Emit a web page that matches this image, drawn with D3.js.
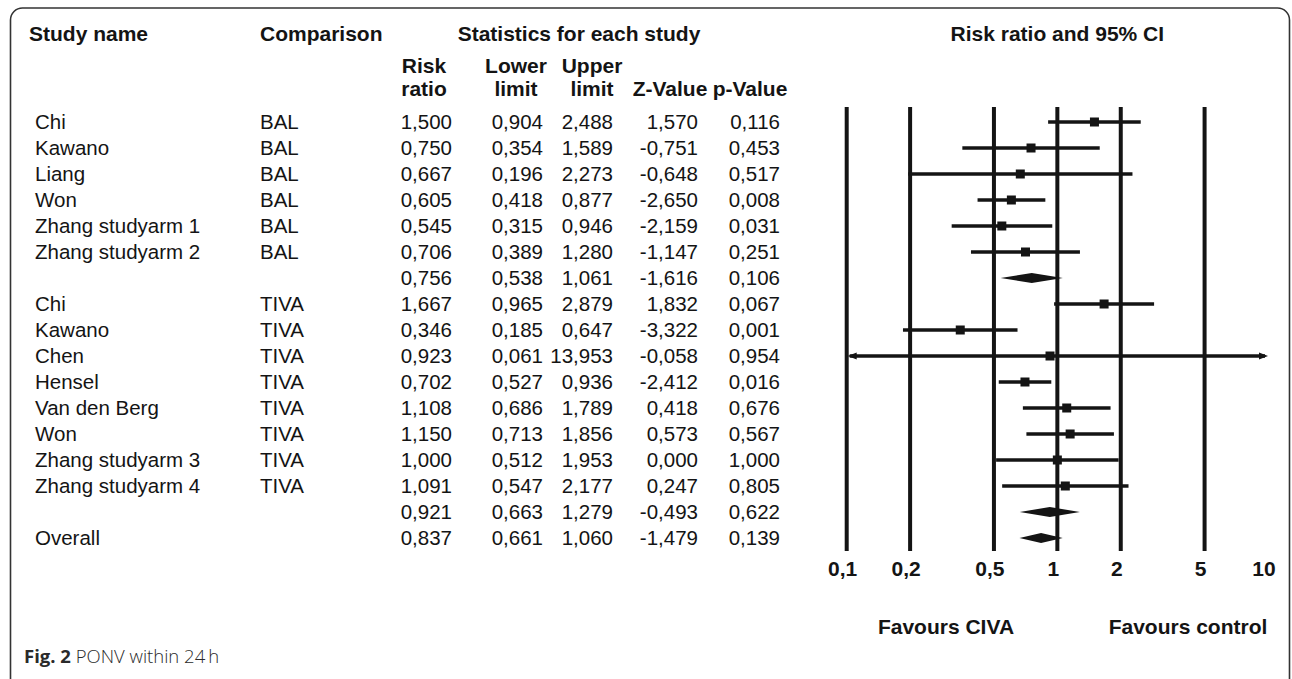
<!DOCTYPE html>
<html>
<head>
<meta charset="utf-8">
<script src="https://cdn.jsdelivr.net/npm/d3@7"></script>
<style>
  html, body { margin: 0; padding: 0; background: #fff; }
  svg { display: block; }
</style>
</head>
<body>
<svg id="chart" width="1292" height="679"></svg>
<script>
// ---------- data ----------
const studies = ["Chi","Kawano","Liang","Won","Zhang studyarm 1","Zhang studyarm 2","",
  "Chi","Kawano","Chen","Hensel","Van den Berg","Won","Zhang studyarm 3","Zhang studyarm 4","","Overall"];
const comparisons = ["BAL","BAL","BAL","BAL","BAL","BAL","",
  "TIVA","TIVA","TIVA","TIVA","TIVA","TIVA","TIVA","TIVA","",""];
const rowTypes = ["study","study","study","study","study","study","summary",
  "study","study","study","study","study","study","study","study","summary","summary"];
const riskRatio = [1.500,0.750,0.667,0.605,0.545,0.706,0.756,1.667,0.346,0.923,0.702,1.108,1.150,1.000,1.091,0.921,0.837];
const lowerLimit = [0.904,0.354,0.196,0.418,0.315,0.389,0.538,0.965,0.185,0.061,0.527,0.686,0.713,0.512,0.547,0.663,0.661];
const upperLimit = [2.488,1.589,2.273,0.877,0.946,1.280,1.061,2.879,0.647,13.953,0.936,1.789,1.856,1.953,2.177,1.279,1.060];
const zValue = [1.570,-0.751,-0.648,-2.650,-2.159,-1.147,-1.616,1.832,-3.322,-0.058,-2.412,0.418,0.573,0.000,0.247,-0.493,-1.479];
const pValue = [0.116,0.453,0.517,0.008,0.031,0.251,0.106,0.067,0.001,0.954,0.016,0.676,0.567,1.000,0.805,0.622,0.139];
const gridTicks = [0.1,0.2,0.5,1,2,5];
const labelTicks = [0.1,0.2,0.5,1,2,5,10];

// ---------- setup ----------
const svg = d3.select("#chart");
const FONT = "'Liberation Sans', Arial, Helvetica, sans-serif";
const ink = "#141414";
const fmt = v => d3.format(".3f")(v).replace(".", ",").replace("−", "-");

const x = d3.scaleLog().domain([0.1, 10]).range([846.7, 1268]);
const y = d3.scalePoint().domain(d3.range(studies.length)).range([122, 538]);

// frame
svg.append("rect")
  .attr("x", 10.5).attr("y", 8).attr("width", 1279).attr("height", 690)
  .attr("rx", 12).attr("ry", 12)
  .attr("fill", "none").attr("stroke", "#333").attr("stroke-width", 1.6);

// ---------- headers ----------
const hdr = svg.append("g").attr("font-family", FONT).attr("font-weight", "bold")
  .attr("font-size", 21).attr("fill", ink);
hdr.append("text").attr("x", 29).attr("y", 40.5).text("Study name");
hdr.append("text").attr("x", 260).attr("y", 40.5).text("Comparison");
hdr.append("text").attr("x", 579).attr("y", 40.5).attr("text-anchor", "middle").text("Statistics for each study");
hdr.append("text").attr("x", x(1)).attr("y", 40.5).attr("text-anchor", "middle").text("Risk ratio and 95% CI");

const colHeads = [
  {cx: 424, l1: "Risk", l2: "ratio"},
  {cx: 516, l1: "Lower", l2: "limit"},
  {cx: 592, l1: "Upper", l2: "limit"},
  {cx: 670, l1: "", l2: "Z-Value"},
  {cx: 750, l1: "", l2: "p-Value"}
];
colHeads.forEach(c => {
  hdr.append("text").attr("x", c.cx).attr("y", 73).attr("text-anchor", "middle").text(c.l1);
  hdr.append("text").attr("x", c.cx).attr("y", 96).attr("text-anchor", "middle").text(c.l2);
});

// ---------- table body ----------
const body = svg.append("g").attr("font-family", FONT).attr("font-size", 20.5).attr("fill", ink);
const rows = body.selectAll("g.row").data(d3.range(studies.length)).join("g")
  .attr("class", "row")
  .attr("transform", i => `translate(0,${y(i) + 7.3})`);
rows.append("text").attr("x", 35).text(i => studies[i]);
rows.append("text").attr("x", 260).text(i => comparisons[i]);
const numCols = [
  {right: 452, vals: riskRatio},
  {right: 543, vals: lowerLimit},
  {right: 613, vals: upperLimit},
  {right: 698, vals: zValue},
  {right: 780, vals: pValue}
];
numCols.forEach(c => {
  rows.append("text").attr("x", c.right).attr("text-anchor", "end").text(i => fmt(c.vals[i]));
});

// ---------- forest plot ----------
const plot = svg.append("g");
plot.selectAll("line.grid").data(gridTicks).join("line")
  .attr("class", "grid")
  .attr("x1", d => x(d)).attr("x2", d => x(d))
  .attr("y1", 107).attr("y2", 551)
  .attr("stroke", ink).attr("stroke-width", 4);

const [xmin, xmax] = x.domain();
const studyIdx = d3.range(studies.length).filter(i => rowTypes[i] === "study");
plot.selectAll("line.ci").data(studyIdx).join("line")
  .attr("class", "ci")
  .attr("x1", i => lowerLimit[i] < xmin ? x(xmin) + 3 : x(lowerLimit[i]))
  .attr("x2", i => upperLimit[i] > xmax ? x(xmax) - 3 : x(upperLimit[i]))
  .attr("y1", i => y(i)).attr("y2", i => y(i))
  .attr("stroke", ink).attr("stroke-width", 3.7);

// arrows for truncated intervals
studyIdx.forEach(i => {
  if (lowerLimit[i] < xmin) {
    const x0 = x(xmin) + 1, yy = y(i);
    plot.append("path").attr("d", `M${x0},${yy} L${x0 + 9},${yy - 3.5} L${x0 + 9},${yy + 3.5} Z`).attr("fill", ink);
  }
  if (upperLimit[i] > xmax) {
    const x0 = x(xmax), yy = y(i);
    plot.append("path").attr("d", `M${x0},${yy} L${x0 - 9},${yy - 3.5} L${x0 - 9},${yy + 3.5} Z`).attr("fill", ink);
  }
});

plot.selectAll("rect.pt").data(studyIdx).join("rect")
  .attr("class", "pt")
  .attr("x", i => x(riskRatio[i]) - 4.5).attr("y", i => y(i) - 4.5)
  .attr("width", 9).attr("height", 9).attr("fill", ink);

const sumIdx = d3.range(studies.length).filter(i => rowTypes[i] === "summary");
plot.selectAll("path.diamond").data(sumIdx).join("path")
  .attr("class", "diamond")
  .attr("d", i => {
    const yy = y(i);
    return `M${x(lowerLimit[i])},${yy} L${x(riskRatio[i])},${yy - 5} L${x(upperLimit[i])},${yy} L${x(riskRatio[i])},${yy + 5} Z`;
  })
  .attr("fill", ink);

// tick labels
const axis = d3.axisBottom(x).tickValues(labelTicks).tickSize(0)
  .tickFormat(d => String(d).replace(".", ","));
const ax = svg.append("g").attr("transform", "translate(0,558)").call(axis);
ax.select(".domain").remove();
ax.selectAll("text").attr("font-family", FONT).attr("font-size", 21).attr("font-weight", "bold")
  .attr("fill", ink).attr("dx", -4.5);

// favours labels
const fav = svg.append("g").attr("font-family", FONT).attr("font-size", 21).attr("font-weight", "bold").attr("fill", ink);
fav.append("text").attr("x", 946).attr("y", 634).attr("text-anchor", "middle").text("Favours CIVA");
fav.append("text").attr("x", 1188).attr("y", 634).attr("text-anchor", "middle").text("Favours control");

// caption
const cap = svg.append("text").attr("x", 24).attr("y", 663)
  .attr("font-family", "'Open Sans', 'Noto Sans', sans-serif").attr("font-size", 18.5).attr("fill", "#2a2a2a");
cap.append("tspan").attr("font-weight", "bold").text("Fig. 2");
cap.append("tspan").attr("font-weight", 300).text(" PONV within 24\u2009h");
</script>
</body>
</html>
